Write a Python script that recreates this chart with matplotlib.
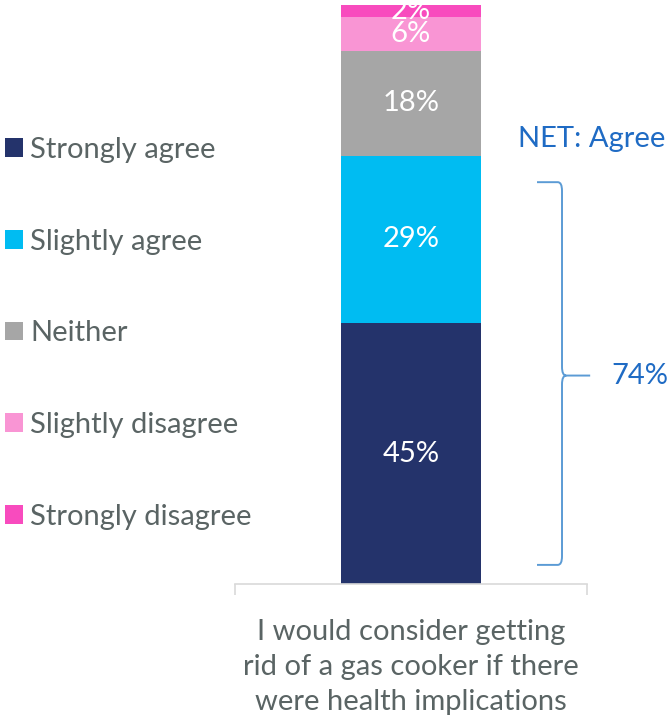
import matplotlib
matplotlib.use("Agg")
import matplotlib.pyplot as plt
from matplotlib.path import Path
from matplotlib.patches import PathPatch

plt.rcParams['font.family'] = ['Lato', 'DejaVu Sans']

# Survey answers, stacked from the bottom up
categories = ["Strongly agree", "Slightly agree", "Neither",
              "Slightly disagree", "Strongly disagree"]
values = [45, 29, 18, 6, 2]
colors = ["#24336B", "#00BCF2", "#A6A6A6", "#F995D4", "#F84BBE"]
question = "I would consider getting\nrid of a gas cooker if there\nwere health implications"
net_label = "NET: Agree"
net_value = "74%"

FS = 21
GREY = "#5A6464"
BLUE = "#1F6BC4"
W, H = 672, 719
fig = plt.figure(figsize=(W / 100, H / 100), dpi=100)
ax = fig.add_axes([235 / W, (H - 584) / H, 352 / W, 579 / H])

bottom = 0
bars = []
for cat, val, col in zip(categories, values, colors):
    b = ax.bar(0, val, width=0.4, bottom=bottom, color=col, label=cat)
    bars.append(b)
    ax.text(0, bottom + val / 2, f"{val}%", ha="center", va="center",
            color="white", fontsize=FS, clip_on=True)
    bottom += val

ax.set_xlim(-0.5, 0.5)
ax.set_ylim(0, 100)
for s in ["top", "left", "right"]:
    ax.spines[s].set_visible(False)
ax.spines["bottom"].set_color("#D9D9D9")
ax.spines["bottom"].set_linewidth(1.2)
ax.set_yticks([])
ax.set_xticks([-0.5, 0.5])
ax.set_xticklabels(["", ""])
ax.tick_params(axis="x", length=8, width=1.2, color="#D9D9D9")

ax.text(0, -14.3, question, ha="center", va="center", fontsize=FS,
        color=GREY, linespacing=1.44, clip_on=False)

# curly brace for the agree total
x0, xv, xt = 0.358, 0.429, 0.509
ytop, ymid, ybot = 69.4, 36.0, 3.3
rx, ry = 0.012, 1.5
verts = [(x0, ytop), (xv - rx, ytop), (xv, ytop), (xv, ytop - ry),
         (xv, ymid + ry), (xv, ymid), (xv + rx, ymid), (xt, ymid),
         (xv + rx, ymid), (xv, ymid), (xv, ymid - ry),
         (xv, ybot + ry), (xv, ybot), (xv - rx, ybot), (x0, ybot)]
codes = [Path.MOVETO, Path.LINETO, Path.CURVE3, Path.CURVE3,
         Path.LINETO, Path.CURVE3, Path.CURVE3, Path.LINETO,
         Path.MOVETO, Path.CURVE3, Path.CURVE3,
         Path.LINETO, Path.CURVE3, Path.CURVE3, Path.LINETO]
ax.add_patch(PathPatch(Path(verts, codes), fill=False, edgecolor="#5B9BD5",
                       linewidth=1.4, clip_on=False))
ax.text(0.65, ymid, net_value, ha="center", va="center", fontsize=FS,
        color=BLUE, clip_on=False)
ax.text(0.514, 76.8, net_label, ha="center", va="center", fontsize=FS,
        color=BLUE, clip_on=False)

fig.legend(handles=[b[0] for b in bars], labels=categories,
           loc="upper left", bbox_to_anchor=(5 / W, (H - 137) / H),
           frameon=False, fontsize=FS, labelcolor=GREY,
           handlelength=0.62, handleheight=0.62, handletextpad=0.24,
           labelspacing=2.25, borderaxespad=0, borderpad=0)

fig.savefig("out.png", dpi=100)
